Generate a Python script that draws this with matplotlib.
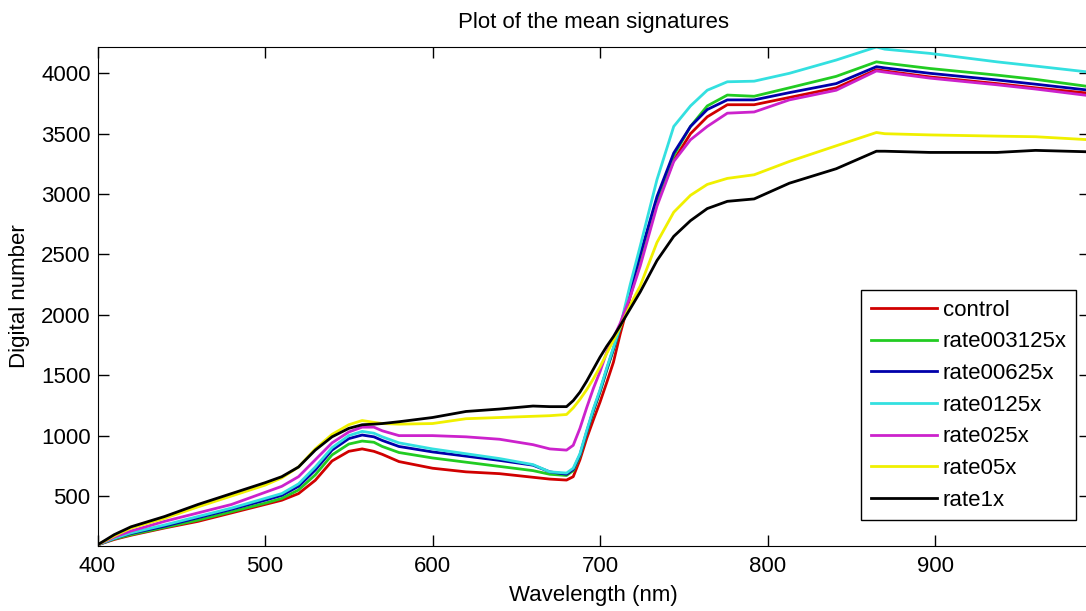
import matplotlib
matplotlib.use("Agg")
import matplotlib.pyplot as plt

plt.rcParams["font.family"] = ["Liberation Sans", "DejaVu Sans"]

# wavelength grid (nm)
wavelength = [400, 410, 420, 440, 460, 480, 500, 510, 520, 530, 540, 550, 558, 565, 570,
              580, 600, 620, 640, 660, 670, 680, 684, 688, 692, 696, 700, 704, 708, 712,
              718, 724, 734, 744, 754, 764, 776, 792, 813, 841, 865, 870, 897, 937, 960, 992]

control = [95, 140, 175, 235, 290, 360, 430, 465, 520, 630, 790, 870, 890, 870, 845,
           785, 730, 700, 685, 655, 640, 632, 660, 800, 976, 1130, 1278, 1440, 1608, 1840,
           2150, 2450, 2930, 3280, 3500, 3640, 3740, 3740, 3800, 3880, 4030, 4020, 3970, 3915, 3880, 3835]
rate003125x = [95, 145, 180, 240, 300, 370, 440, 480, 550, 675, 840, 930, 955, 945, 910,
               860, 815, 780, 745, 710, 680, 670, 710, 830, 1020, 1200, 1360, 1540, 1710, 1890,
               2190, 2480, 2960, 3320, 3560, 3730, 3820, 3810, 3880, 3975, 4095, 4085, 4040, 3985, 3950, 3890]
rate00625x = [95, 150, 190, 250, 320, 390, 465, 505, 580, 715, 880, 975, 1005, 990, 960,
              910, 865, 830, 795, 755, 700, 680, 720, 840, 1030, 1210, 1370, 1550, 1720, 1900,
              2200, 2500, 2980, 3340, 3560, 3700, 3780, 3780, 3840, 3915, 4055, 4045, 4000, 3945, 3910, 3860]
rate0125x = [95, 150, 195, 260, 330, 400, 480, 520, 600, 740, 900, 1000, 1035, 1020, 990,
             940, 890, 850, 810, 760, 700, 690, 730, 850, 1040, 1220, 1380, 1560, 1730, 1900,
             2250, 2570, 3120, 3560, 3730, 3860, 3930, 3935, 4000, 4110, 4218, 4200, 4165, 4095, 4060, 4010]
rate025x = [95, 160, 210, 290, 360, 430, 530, 580, 660, 800, 940, 1030, 1070, 1070, 1040,
            1000, 1000, 990, 970, 925, 890, 880, 920, 1060, 1230, 1390, 1530, 1690, 1810, 1930,
            2150, 2405, 2900, 3270, 3450, 3560, 3670, 3680, 3780, 3860, 4020, 4010, 3960, 3905, 3870, 3815]
rate05x = [95, 170, 235, 315, 410, 500, 590, 650, 740, 890, 1010, 1090, 1125, 1110, 1100,
           1095, 1100, 1140, 1150, 1160, 1165, 1175, 1230, 1300, 1380, 1470, 1570, 1680, 1790, 1900,
           2080, 2240, 2600, 2850, 2990, 3080, 3130, 3160, 3270, 3400, 3510, 3500, 3490, 3480, 3475, 3450]
rate1x = [95, 180, 245, 330, 430, 520, 610, 660, 740, 880, 990, 1060, 1090, 1095, 1100,
          1115, 1150, 1200, 1220, 1245, 1240, 1240, 1290, 1360, 1450, 1550, 1650, 1740, 1820, 1910,
          2050, 2190, 2450, 2650, 2780, 2880, 2940, 2960, 3090, 3210, 3355, 3355, 3345, 3345, 3362, 3350]

labels = ["control", "rate003125x", "rate00625x", "rate0125x", "rate025x", "rate05x", "rate1x"]
series = [control, rate003125x, rate00625x, rate0125x, rate025x, rate05x, rate1x]
colors = ["#d00000", "#22cc22", "#0000aa", "#33e0e0", "#cc22cc", "#f0f000", "#000000"]

fig = plt.figure(figsize=(10.86, 6.11), dpi=100)
ax = fig.add_axes([97.5 / 1086, 65 / 611, (1090 - 97.5) / 1086, 499 / 611])

for y, lab, c in zip(series, labels, colors):
    ax.plot(wavelength, y, color=c, lw=2, label=lab)

ax.set_xlim(400, 992.5)
ax.set_ylim(86, 4218)
ax.set_xticks([400, 500, 600, 700, 800, 900])
ax.set_yticks([500, 1000, 1500, 2000, 2500, 3000, 3500, 4000])
ax.tick_params(direction="in", length=8, width=1, top=True, right=True, labelsize=16)
ax.tick_params(axis="x", pad=7)
ax.tick_params(axis="y", pad=5)

ax.set_xlabel("Wavelength (nm)", fontsize=16, labelpad=6)
ax.set_ylabel("Digital number", fontsize=16, labelpad=8)
ax.set_title("Plot of the mean signatures", fontsize=16, pad=14)

leg = ax.legend(loc="lower right", bbox_to_anchor=(0.986, 0.052), borderaxespad=0,
                fontsize=16, fancybox=False, edgecolor="black", framealpha=1,
                handlelength=2.97, handletextpad=0.27, labelspacing=0.48, borderpad=0.42)
leg.get_frame().set_linewidth(1)

fig.savefig("out.png", dpi=100)
